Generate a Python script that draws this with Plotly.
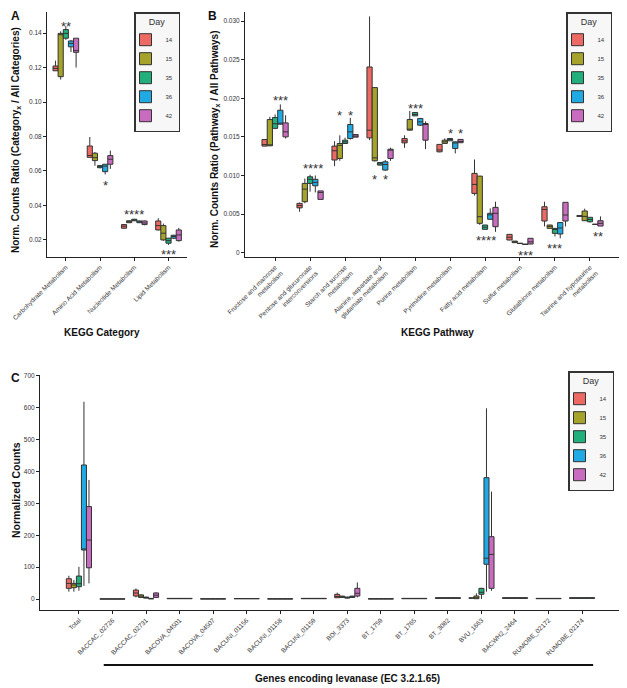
import plotly.graph_objects as go

DAYS = ["14", "15", "35", "36", "42"]
COLORS = ["#EC6A63", "#A5A32A", "#21B07C", "#1FAAE3", "#C96CC0"]

# ---------------- Panel A: KEGG categories ----------------
A_CATS = ["Carbohydrate Metabolism", "Amino Acid Metabolism", "Nucleotide Metabolism", "Lipid Metabolism"]
A_LOW = [[0.1180, 0.0680, 0.0265, 0.0255],
         [0.1130, 0.0630, 0.0298, 0.0195],
         [0.1360, 0.0615, 0.0310, 0.0171],
         [0.1290, 0.0580, 0.0298, 0.0205],
         [0.1200, 0.0612, 0.0285, 0.0190]]
A_Q1 = [[0.1181, 0.0679, 0.0268, 0.0258],
        [0.1147, 0.0660, 0.0300, 0.0200],
        [0.1370, 0.0619, 0.0311, 0.0181],
        [0.1320, 0.0596, 0.0300, 0.0210],
        [0.1288, 0.0639, 0.0289, 0.0196]]
A_MED = [[0.1195, 0.0690, 0.0280, 0.0283],
         [0.1390, 0.0677, 0.0305, 0.0239],
         [0.1398, 0.0625, 0.0315, 0.0196],
         [0.1340, 0.0628, 0.0305, 0.0220],
         [0.1298, 0.0668, 0.0298, 0.0229]]
A_Q3 = [[0.1209, 0.0745, 0.0289, 0.0310],
        [0.1398, 0.0703, 0.0311, 0.0283],
        [0.1420, 0.0631, 0.0320, 0.0210],
        [0.1354, 0.0639, 0.0310, 0.0227],
        [0.1370, 0.0689, 0.0310, 0.0258]]
A_HIGH = [[0.1240, 0.0797, 0.0292, 0.0326],
          [0.1410, 0.0710, 0.0313, 0.0295],
          [0.1440, 0.0635, 0.0322, 0.0212],
          [0.1360, 0.0640, 0.0312, 0.0230],
          [0.1370, 0.0718, 0.0312, 0.0270]]
A_YTICKS = [0.02, 0.04, 0.06, 0.08, 0.10, 0.12, 0.14]
A_YTEXT = ["0.02", "0.04", "0.06", "0.08", "0.10", "0.12", "0.14"]
# significance: (category index, box offset, y, label)
A_SIG = [(0, 0, 0.1440, "**"), (1, 1, 0.0513, "*"), (2, 0, 0.0345, "****"), (3, 0, 0.0113, "***")]

# ---------------- Panel B: KEGG pathways ----------------
B_CATS = ["Fructose and mannose<br>metabolism", "Pentose and glucuronate<br>interconversions",
          "Starch and sucrose<br>metabolism", "Alanine, aspartate and<br>glutamate metabolism",
          "Purine metabolism", "Pyrimidine metabolism", "Fatty acid metabolism",
          "Sulfur metabolism", "Glutathione metabolism", "Taurine and hypotaurine<br>metabolism"]
B_LOW = [[0.0138, 0.0053, 0.0112, 0.01457, 0.01358, 0.0130, 0.0074, 0.0016, 0.0034, 0.0047],
         [0.0138, 0.0064, 0.0119, 0.0118, 0.0158, 0.0141, 0.0036, 0.0013, 0.0031, 0.0041],
         [0.0160, 0.0079, 0.0141, 0.0113, 0.0177, 0.01449, 0.0030, 0.00115, 0.0021, 0.0039],
         [0.0166, 0.0078, 0.01466, 0.0106, 0.0164, 0.01285, 0.0043, 0.00105, 0.00186, 0.00365],
         [0.01478, 0.0069, 0.01496, 0.0119, 0.01341, 0.01424, 0.0027, 0.0011, 0.0034, 0.00345]]
B_Q1 = [[0.0138, 0.0058, 0.0120, 0.01487, 0.01422, 0.01306, 0.00768, 0.00164, 0.0041, 0.0047],
        [0.01384, 0.0066, 0.0122, 0.0119, 0.01587, 0.01415, 0.0038, 0.0013, 0.00315, 0.00414],
        [0.0161, 0.00897, 0.01414, 0.01134, 0.01772, 0.01449, 0.00302, 0.00118, 0.0025, 0.0040],
        [0.01664, 0.00866, 0.01478, 0.0107, 0.01651, 0.0135, 0.00432, 0.00106, 0.00242, 0.00366],
        [0.0150, 0.0069, 0.01496, 0.0122, 0.01457, 0.01424, 0.00336, 0.00112, 0.0041, 0.00345]]
B_MED = [[0.0140, 0.0061, 0.0132, 0.01586, 0.01448, 0.0133, 0.00884, 0.0020, 0.0056, 0.00475],
         [0.0139, 0.00823, 0.0139, 0.01228, 0.0160, 0.01436, 0.00466, 0.0014, 0.0034, 0.0047],
         [0.0167, 0.0095, 0.01435, 0.0115, 0.0179, 0.01465, 0.0033, 0.0012, 0.0030, 0.0043],
         [0.01672, 0.0091, 0.01565, 0.01142, 0.01694, 0.0142, 0.0049, 0.00108, 0.0032, 0.00367],
         [0.01565, 0.0078, 0.0151, 0.01328, 0.0166, 0.0144, 0.0051, 0.0014, 0.00488, 0.0038]]
B_Q3 = [[0.01466, 0.00638, 0.0138, 0.02405, 0.01478, 0.01402, 0.01027, 0.00237, 0.00595, 0.0048],
        [0.01724, 0.00897, 0.01414, 0.02138, 0.01725, 0.01457, 0.00992, 0.0015, 0.00358, 0.0054],
        [0.0175, 0.00983, 0.01457, 0.01168, 0.01816, 0.01478, 0.00358, 0.00122, 0.00315, 0.00458],
        [0.01845, 0.0095, 0.0166, 0.01177, 0.01738, 0.01435, 0.0051, 0.0011, 0.0039, 0.00368],
        [0.01681, 0.0080, 0.0153, 0.0134, 0.01673, 0.01467, 0.00587, 0.00186, 0.00652, 0.00414]]
B_HIGH = [[0.0147, 0.0065, 0.01444, 0.0306, 0.0152, 0.01402, 0.01207, 0.0024, 0.0066, 0.0048],
          [0.0176, 0.0096, 0.0152, 0.02138, 0.01836, 0.0148, 0.00992, 0.0015, 0.0036, 0.0057],
          [0.0179, 0.0101, 0.0149, 0.0117, 0.0182, 0.0148, 0.0036, 0.00125, 0.0032, 0.0046],
          [0.0192, 0.0100, 0.01746, 0.0120, 0.0174, 0.0144, 0.00574, 0.00112, 0.0039, 0.0037],
          [0.0178, 0.0080, 0.0153, 0.0136, 0.0170, 0.01467, 0.0066, 0.0019, 0.00652, 0.0047]]
B_YTICKS = [0, 0.005, 0.010, 0.015, 0.020, 0.025, 0.030]
B_YTEXT = ["0", "0.005", "0.010", "0.015", "0.020", "0.025", "0.030"]
B_SIG = [(0, 1, 0.01968, "***"), (1, 0.5, 0.01093, "****"),
         (2, -1, 0.01774, "*"), (2, 1, 0.01774, "*"),
         (3, -1, 0.00945, "*"), (3, 1, 0.00945, "*"),
         (4, 0, 0.01861, "***"), (5, 0, 0.01546, "*"), (5, 2, 0.01546, "*"),
         (6, 0.2, 0.00155, "****"), (7, 1, -0.00039, "***"),
         (8, 0, 0.00057, "***"), (9, 1.5, 0.00207, "**")]

# ---------------- Panel C: levanase genes ----------------
C_CATS = ["Total", "BACCAC_02726", "BACCAC_02731", "BACOVA_04501", "BACOVA_04507",
          "BACUNI_01156", "BACUNI_01158", "BACUNI_01159", "BDI_3373", "BT_1759", "BT_1765",
          "BT_3082", "BVU_1663", "BACWH2_2464", "RUMOBE_02172", "RUMOBE_02174"]
C_LOW = [[23, 0, 5, 0.5, 0, 0.5, 0, 0.5, 4, 0, 0.5, 1, 2, 1, 0.5, 1],
         [23, 0, 3, 0.5, 0, 0.5, 0, 0.5, 4, 0, 0.5, 1, 1, 1, 0.5, 1],
         [26, 0, 2, 0.5, 0, 0.5, 0, 0.5, 2, 0, 0.5, 1, 0, 1, 0.5, 1],
         [41, 0, 0, 0.5, 0, 0.5, 0, 0.5, 4, 0, 0.5, 1, 23, 1, 0.5, 1],
         [49, 0, 4, 0.5, 0, 0.5, 0, 0.5, 5, 0, 0.5, 1, 26, 1, 0.5, 1]]
C_Q1 = [[33.5, 0, 9.4, 1, 0.2, 0.8, 0.2, 1, 4, 0.2, 1, 2, 2.5, 2, 1, 2],
        [35.5, 0, 5, 1, 0.2, 0.8, 0.2, 1, 5, 0.2, 1, 2, 1, 2, 1, 2],
        [38.6, 0, 3, 1, 0.2, 0.8, 0.2, 1, 3, 0.2, 1, 2, 14.7, 2, 1, 2],
        [153.8, 0, 0.5, 1, 0.2, 0.8, 0.2, 1, 5, 0.2, 1, 2, 109, 2, 1, 2],
        [98, 0, 5, 1, 0.2, 0.8, 0.2, 1, 9.4, 0.2, 1, 2, 33.5, 2, 1, 2]]
C_MED = [[49, 0.1, 18.8, 1.5, 0.4, 1.2, 0.4, 1.5, 8, 0.5, 1.5, 3, 3, 3, 1.5, 3],
         [44, 0.1, 9, 1.5, 0.4, 1.2, 0.4, 1.5, 7, 0.5, 1.5, 3, 3, 3, 1.5, 3],
         [48, 0.1, 4, 1.5, 0.4, 1.2, 0.4, 1.5, 4, 0.5, 1.5, 3, 21, 3, 1.5, 3],
         [157, 0.1, 1, 1.5, 0.4, 1.2, 0.4, 1.5, 7, 0.5, 1.5, 3, 128, 3, 1.5, 3],
         [185, 0.1, 12, 1.5, 0.4, 1.2, 0.4, 1.5, 18, 0.5, 1.5, 3, 140, 3, 1.5, 3]]
C_Q3 = [[63.7, 0.2, 28, 2, 0.6, 1.6, 0.6, 2, 14.7, 0.8, 2, 4, 3.5, 4, 2, 4],
        [49, 0.2, 13, 2, 0.6, 1.6, 0.6, 2, 9, 0.8, 2, 4, 9.4, 4, 2, 4],
        [72, 0.2, 6, 2, 0.6, 1.6, 0.6, 2, 6, 0.8, 2, 4, 33.5, 4, 2, 4],
        [420.6, 0.2, 2, 2, 0.6, 1.6, 0.6, 2, 9, 0.8, 2, 4, 380.8, 4, 2, 4],
        [290, 0.2, 19, 2, 0.6, 1.6, 0.6, 2, 33.5, 0.8, 2, 4, 195.6, 4, 2, 4]]
C_HIGH = [[73, 0.3, 33, 2.5, 0.8, 2, 0.8, 2.5, 20, 1, 2.5, 5, 4, 5, 2.5, 5],
          [60, 0.3, 14, 2.5, 0.8, 2, 0.8, 2.5, 10, 1, 2.5, 5, 18, 5, 2.5, 5],
          [101, 0.3, 7, 2.5, 0.8, 2, 0.8, 2.5, 7, 1, 2.5, 5, 35, 5, 2.5, 5],
          [619, 0.3, 3, 2.5, 0.8, 2, 0.8, 2.5, 10, 1, 2.5, 5, 598.6, 5, 2.5, 5],
          [373.6, 0.3, 21, 2.5, 0.8, 2, 0.8, 2.5, 52, 1, 2.5, 5, 337, 5, 2.5, 5]]
C_YTICKS = [0, 100, 200, 300, 400, 500, 600, 700]

FONT = "Arial, Liberation Sans, sans-serif"
OFF = 8              # page body margin of the html page
W, H = 627 - OFF, 688 - OFF
BOXW = 0.75 / 5      # width of one box in category units

fig = go.Figure()

panels = [
    (A_CATS, A_LOW, A_Q1, A_MED, A_Q3, A_HIGH, "x", "y", "legend"),
    (B_CATS, B_LOW, B_Q1, B_MED, B_Q3, B_HIGH, "x2", "y2", "legend2"),
    (C_CATS, C_LOW, C_Q1, C_MED, C_Q3, C_HIGH, "x3", "y3", "legend3"),
]
for cats, lo, q1, med, q3, hi, xa, ya, lg in panels:
    for i, d in enumerate(DAYS):
        fig.add_trace(go.Box(
            x=cats, lowerfence=lo[i], q1=q1[i], median=med[i], q3=q3[i], upperfence=hi[i],
            name=d, offsetgroup=d, legend=lg, xaxis=xa, yaxis=ya,
            fillcolor=COLORS[i], line=dict(color="#333333", width=1),
            whiskerwidth=0, boxpoints=False, hoverinfo="skip"))

axis_common = dict(showline=True, linecolor="#222222", linewidth=1, ticks="outside",
                   ticklen=3, tickcolor="#222222", showgrid=False, zeroline=False,
                   automargin=False,
                   tickfont=dict(size=6.5, color="#333333", family=FONT))

def px_x(p):
    return (p - OFF) / W

def px_y(p):
    return 1 - (p - OFF) / H

legend_common = dict(bgcolor="#f7f7f7", bordercolor="#333333", borderwidth=1.5,
                     font=dict(size=6, family=FONT, color="#333333"),
                     title=dict(text="Day", side="top center", font=dict(size=9, family=FONT)),
                     itemwidth=30, indentation=-10, xanchor="right", yanchor="top",
                     tracegroupgap=0)

fig.update_layout(
    width=W, height=H, margin=dict(l=0, r=0, t=0, b=0, autoexpand=False),
    paper_bgcolor="white", plot_bgcolor="white",
    boxmode="group", boxgap=0.25, boxgroupgap=0,
    font=dict(family=FONT),
    xaxis=dict(axis_common, domain=[px_x(47), px_x(187)], range=[-0.55, 3.54], anchor="y",
               tickangle=-45, categoryorder="array", categoryarray=A_CATS),
    yaxis=dict(axis_common, domain=[px_y(257), px_y(12)], range=[0.0101, 0.1522], anchor="x",
               tickvals=A_YTICKS, ticktext=A_YTEXT),
    xaxis2=dict(axis_common, domain=[px_x(245), px_x(619)], range=[-0.86, 9.83], anchor="y2",
                tickangle=-45, categoryorder="array", categoryarray=B_CATS),
    yaxis2=dict(axis_common, domain=[px_y(257), px_y(12)], range=[-0.00056, 0.03117], anchor="x2",
                tickvals=B_YTICKS, ticktext=B_YTEXT),
    xaxis3=dict(axis_common, domain=[px_x(40), px_x(622)], range=[-1.16, 16.19], anchor="y3",
                tickangle=-45, categoryorder="array", categoryarray=C_CATS),
    yaxis3=dict(axis_common, domain=[px_y(610), px_y(375)], range=[-34.5, 703], anchor="x3",
                tickvals=C_YTICKS),
    legend=dict(legend_common, x=px_x(180), y=px_y(12)),
    legend2=dict(legend_common, x=px_x(612), y=px_y(12)),
    legend3=dict(legend_common, x=px_x(614), y=px_y(371)),
)

ann = []
for sig, xr, yr in [(A_SIG, "x", "y"), (B_SIG, "x2", "y2")]:
    for ci, off, yv, txt in sig:
        ann.append(dict(x=ci + off * BOXW, y=yv, xref=xr, yref=yr, text=txt, showarrow=False,
                        xanchor="center", yanchor="middle",
                        font=dict(size=13, color="#333333", family=FONT)))

def paper_text(xp, yp, text, size, angle=0):
    return dict(x=px_x(xp), y=px_y(yp), xref="paper", yref="paper", text=text,
                showarrow=False, xanchor="center", yanchor="middle", textangle=angle,
                font=dict(size=size, color="#111111", family=FONT))

ann += [
    paper_text(15, 16, "<b>A</b>", 12),
    paper_text(212, 16, "<b>B</b>", 12),
    paper_text(15, 378, "<b>C</b>", 12),
    paper_text(16, 140, "<b>Norm. Counts Ratio (Category<sub>x</sub> / All Categories)</b>", 10, -90),
    paper_text(215, 140, "<b>Norm. Counts Ratio (Pathway<sub>x</sub> / All Pathways)</b>", 10, -90),
    paper_text(16, 490, "<b>Normalized Counts</b>", 10.5, -90),
    paper_text(102, 332, "<b>KEGG Category</b>", 10),
    paper_text(437, 332, "<b>KEGG Pathway</b>", 10),
    paper_text(348, 678, "<b>Genes encoding levanase (EC 3.2.1.65)</b>", 10),
]
fig.update_layout(annotations=ann)

fig.add_shape(type="line", xref="x3", yref="paper", x0=0.74, x1=15.33, y0=px_y(665), y1=px_y(665),
              line=dict(color="#111111", width=2))

fig.write_html("out.html")
